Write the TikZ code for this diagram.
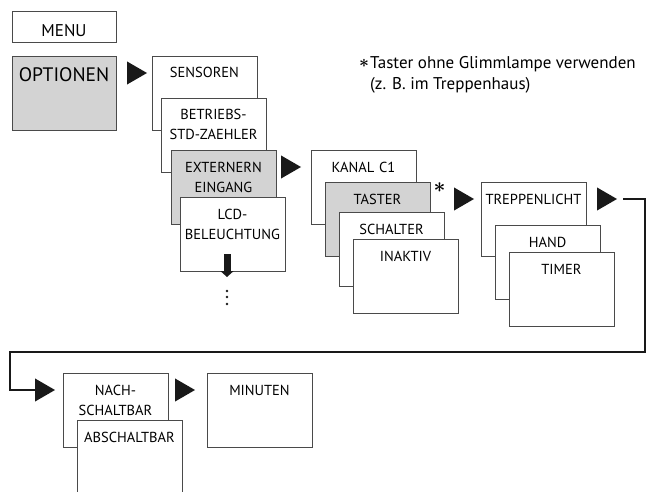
\documentclass[tikz,border=0pt]{standalone}
\usepackage{fontspec}
\setmainfont{PT Sans}
\usetikzlibrary{shapes.geometric,arrows.meta}

\definecolor{selgray}{HTML}{D3D3D3}
\definecolor{edgegray}{HTML}{4A4A4A}

\begin{document}
\begin{tikzpicture}[x=1pt,y=-1pt,
    menu/.style={draw=edgegray,line width=0.9pt,fill=white,anchor=north west,inner sep=0pt,outer sep=0pt,
        minimum width=105pt,text width=103pt,align=center,text height=22pt,text depth=52pt,
        font=\fontsize{14.5}{20}\selectfont},
    sel/.style={menu,fill=selgray},
    tri/.style={isosceles triangle,isosceles triangle apex angle=60,fill=black!90,inner sep=0pt,
        outer sep=0pt,minimum height=20pt,anchor=west},
    conn/.style={line width=2.4pt,black!90}]
        \useasboundingbox (0,0) rectangle (650,492);
        \clip (0,0) rectangle (650,492);

        % linke Spalte
        \node[menu,minimum width=104pt,text width=102pt,text height=26pt,text depth=5pt,font=\fontsize{17}{20}\selectfont] (menu) at (12,11) {MENU};
        \node[sel,minimum width=104pt,text width=102pt,text height=26pt,text depth=48pt,font=\fontsize{19.5}{24}\selectfont] (opt) at (12,56) {OPTIONEN};

        \node[menu] (sens) at (152,56) {SENSOREN};
        \node[menu] (betr) at (161,98) {BETRIEBS-\\STD-ZAEHLER};
        \node[sel] (ext) at (171,150) {EXTERNERN\\EINGANG};
        \node[menu] (lcd) at (180,197) {LCD-\\BELEUCHTUNG};

        \node[menu] (kanal) at (311,150) {KANAL C1};
        \node[sel] (taster) at (325,182) {TASTER};
        \node[menu] (schalter) at (339,212) {SCHALTER};
        \node[menu] (inaktiv) at (353,239) {INAKTIV};

        \node[menu] (trepp) at (481,182) {TREPPENLICHT};
        \node[menu] (hand) at (495,225) {HAND};
        \node[menu] (timer) at (509,252) {TIMER};

        \node[menu] (nach) at (63,373) {NACH-\\SCHALTBAR};
        \node[menu] (absch) at (77,420) {ABSCHALTBAR};
        \node[menu] (minuten) at (207,373) {MINUTEN};

        % Pfeile
        \node[tri] (t1) at (127,73) {};
        \node[tri] (t2) at (281,167) {};
        \node[tri] (t3) at (454,199) {};
        \node[tri] (t4) at (597,199) {};
        \node[tri] (t5) at (35,390) {};
        \node[tri] (t6) at (175,390) {};

        \draw[conn] ([xshift=6pt]t4.east) -| (645,352) -| (10,390) -- (t5.west);

        \draw[line width=7pt,black!90,-{Triangle[width=13pt,length=6pt]}] ([xshift=-5.5pt,yshift=17pt]lcd.south) -- ([xshift=-5.5pt,yshift=-6pt]lcd.south);
        \foreach \y in {291,297,304} \fill[black!90] (227,\y) circle (1.4pt);

        \node[inner sep=0pt,font=\fontsize{20}{20}\selectfont\boldmath] (star) at (439.5,188) {$\ast$};
        \node[anchor=base west,align=left,inner sep=0pt,font=\fontsize{17}{21}\selectfont] (note) at (359,90) {\makebox[11pt][l]{\raisebox{1.5pt}{\boldmath$\ast$}}Taster ohne Glimmlampe verwenden\\\hspace*{11pt}(z. B. im Treppenhaus)};
    \end{tikzpicture}
\end{document}
